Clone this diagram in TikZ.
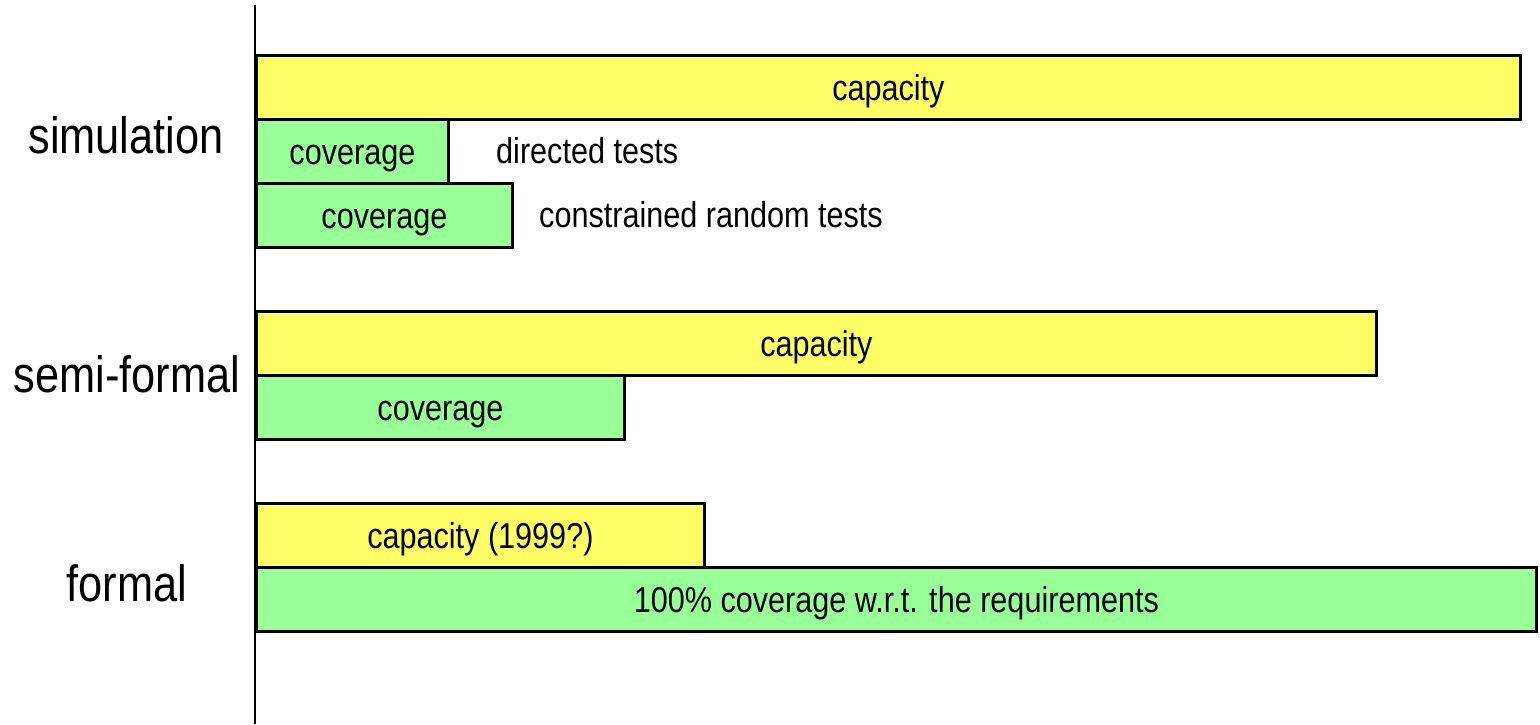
\documentclass[tikz,border=0pt]{standalone}
\usepackage{fontspec}
\setmainfont{Liberation Sans}[FakeStretch=0.85]
\definecolor{capyellow}{HTML}{FFFF66}
\definecolor{covgreen}{HTML}{99FF99}
\tikzset{
  bar/.style={draw=black, line width=2.8pt, anchor=north west, inner sep=0pt,
    minimum height=64pt, font=\fontsize{36}{40}\selectfont,
    text height=26pt, text depth=0pt},
  capbar/.style={bar, fill=capyellow},
  covbar/.style={bar, fill=covgreen},
  note/.style={anchor=base west, inner sep=0pt, font=\fontsize{36}{40}\selectfont},
  method/.style={anchor=base, inner sep=0pt, font=\fontsize{51}{56}\selectfont},
  axis/.style={draw=black, line width=2.8pt}
}
\begin{document}
\begin{tikzpicture}[x=1pt,y=-1pt]
  \useasboundingbox (0,0) rectangle (1540,724);
  % vertical axis
  \coordinate (axtop) at (255,5);
  \coordinate (axbot) at (255,724);
  \draw[axis] (axtop) -- (axbot);

  % simulation
  \node[capbar, minimum width=1264pt] (simcap) at (255,54) {capacity};
  \node[covbar, minimum width=192pt]  (simdir) at (255,118) {coverage};
  \node[covbar, minimum width=256pt]  (simrnd) at (255,182) {coverage};
  \node[note] (dirtxt) at (496,163) {directed tests};
  \node[note] (rndtxt) at (539,227) {constrained random tests};
  \node[method] (simlbl) at (126,153) {simulation};

  % semi-formal
  \node[capbar, minimum width=1120pt] (semicap) at (255,310) {capacity};
  \node[covbar, minimum width=368pt]  (semicov) at (255,374) {coverage};
  \node[method] (semilbl) at (127,392) {semi-formal};

  % formal
  \node[capbar, minimum width=448pt]  (formcap) at (255,502) {capacity (1999?)};
  \node[covbar, minimum width=1280pt] (formcov) at (255,566) {100\% coverage w.r.t. the requirements};
  \node[method] (formlbl) at (127,601) {formal};
\end{tikzpicture}
\end{document}
